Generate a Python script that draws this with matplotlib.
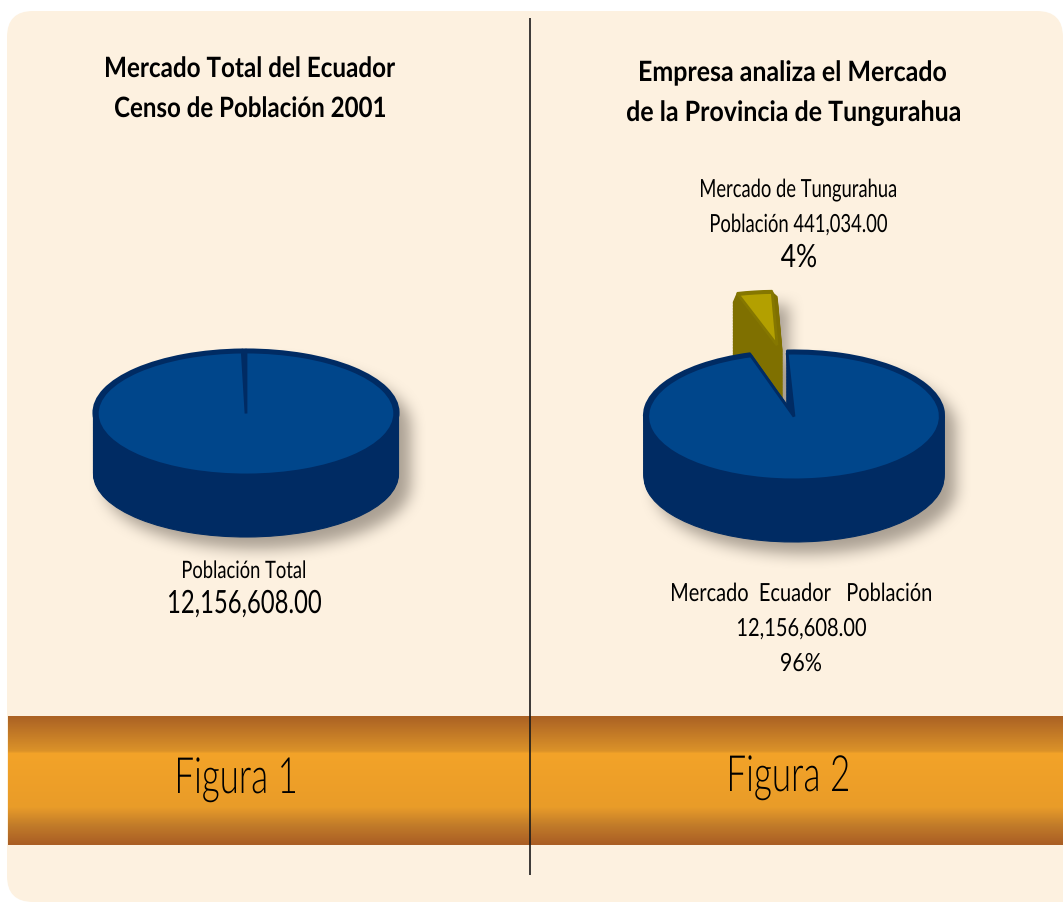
import numpy as np
import matplotlib
matplotlib.use("Agg")
import matplotlib.pyplot as plt
from matplotlib.colors import LinearSegmentedColormap, to_rgba
from matplotlib.font_manager import FontProperties
from matplotlib.patches import FancyBboxPatch, Rectangle
from matplotlib.path import Path
from matplotlib.text import Text
from matplotlib.textpath import TextPath
from matplotlib.transforms import Affine2D, Bbox

plt.rcParams['font.family'] = ['Lato', 'Open Sans', 'DejaVu Sans']

W, H = 1063, 902

# ---------- data ----------
title_left = ["Mercado Total del Ecuador", "Censo de Población 2001"]
title_right = ["Empresa analiza el Mercado", "de la Provincia de Tungurahua"]
figure_labels = ["Figura 1", "Figura 2"]
pie1_values = [99.6, 0.4]
pie2_values = [96, 4]
pie1_text = ["Población Total", "12,156,608.00"]
pie2_top = ["Mercado de Tungurahua", "Población 441,034.00", "4%"]
pie2_bottom = ["Mercado  Ecuador   Población", "12,156,608.00", "96%"]

CARD = '#FDF1E0'
BLUE = '#00468B'
BLUE_DARK = '#002B63'
OLIVE = '#B3A000'
OLIVE_DARK = '#7F7000'
OLIVE_EDGE = '#857700'


class FittedText(Text):
    """A real text artist drawn condensed to a given pixel width (no condensed font is installed)."""

    def __init__(self, x, y, s, width_px, size_px, weight='normal', **kw):
        super().__init__(x, y, s, color='black', **kw)
        self.width_px, self.size_px = width_px, size_px
        self.fp = FontProperties(family=['Lato'], weight=weight)

    def _outline(self):
        tp = TextPath((0, 0), self.get_text(), size=self.size_px, prop=self.fp)
        ext = tp.get_extents()
        dx, dy = self.get_transform().transform((self.get_position()))
        tr = (Affine2D().translate(-ext.x0, 0).scale(self.width_px / ext.width, 1)
              .translate(dx - self.width_px / 2, dy))
        return Path(tp.vertices.copy(), tp.codes.copy()), tr

    def draw(self, renderer):
        path, tr = self._outline()
        gc = renderer.new_gc()
        gc.set_linewidth(0)
        gc.set_antialiased(True)
        renderer.draw_path(gc, path, tr, to_rgba('black'))
        gc.restore()

    def get_window_extent(self, renderer=None, dpi=None):
        path, tr = self._outline()
        return Bbox(path.transformed(tr).get_extents())


def silhouette_shadow(cx, cy, rx, ry, depth, blur, extra=None):
    yy, xx = np.mgrid[0:H, 0:W]
    sweep = np.clip(yy - cy, 0, depth)
    mask = ((xx - cx) / rx) ** 2 + ((yy - cy - sweep) / ry) ** 2 <= 1
    mask = mask.astype(float)
    if extra is not None:
        mask = np.maximum(mask, extra(xx, yy).astype(float))
    kernel = np.ones(2 * blur + 1) / (2 * blur + 1)
    for _ in range(2):
        mask = np.apply_along_axis(lambda r: np.convolve(r, kernel, mode='same'), 0, mask)
        mask = np.apply_along_axis(lambda r: np.convolve(r, kernel, mode='same'), 1, mask)
    return mask


fig = plt.figure(figsize=(W / 100, H / 100), dpi=100, facecolor='white')

# ---------- background ----------
back = fig.add_axes([0, 0, 1, 1])
back.axis('off')
r = 26
back.add_patch(FancyBboxPatch((7 + r, 11 + r), W - 7 - 2 * r, H - 11 - 2 * r,
                              boxstyle=f"round,pad={r},rounding_size={r}",
                              fc=CARD, ec='none', zorder=1))
back.add_patch(Rectangle((W - 100, H - 100), 100, 100, fc=CARD, ec='none', zorder=1))

shadow = np.maximum(
    silhouette_shadow(246 + 11, 412 + 12, 153, 62.5, 62, 8),
    silhouette_shadow(794 + 11, 415 + 12, 150.5, 64.5, 62, 8,
                      extra=lambda x, y: (x > 745) & (x < 789) & (y > 304) & (y < 420)))
rgba = np.zeros((H, W, 4))
rgba[..., :3] = np.array([0x98, 0x8E, 0x82]) / 255
rgba[..., 3] = shadow * 0.82
back.imshow(rgba, extent=(0, W, H, 0), zorder=2, aspect='auto', interpolation='nearest')

stops = [(0.0, '#AB6224'), (0.27, '#DB9229'), (0.29, '#F3A328'), (0.71, '#E99C29'),
         (0.85, '#C27C2A'), (1.0, '#AA5E24')]
cmap = LinearSegmentedColormap.from_list('band', stops)
back.imshow(np.linspace(0, 1, 129)[:, None], cmap=cmap, extent=(8, W, 845, 716),
            aspect='auto', zorder=3, vmin=0, vmax=1)
back.plot([530, 530], [18, 875], color='#1a1a1a', lw=1.2, zorder=4, solid_capstyle='butt')
back.set_xlim(0, W)
back.set_ylim(H, 0)


# ---------- pies ----------
def pie_axes(cx, cy, rx, ry):
    s = 4
    ax = fig.add_axes([(cx - s * rx) / W, 1 - (cy + s * ry) / H, 2 * s * rx / W, 2 * s * ry / H])
    ax.patch.set_alpha(0)
    return ax, s


def finish(ax, s):
    ax.set_aspect('auto')
    ax.set_xlim(-s, s)
    ax.set_ylim(-s, s)
    ax.axis('off')


def layer(ax, values, start, keep, radius, center, color, ec, lw):
    wedges, _ = ax.pie(values, startangle=start, counterclock=False, radius=radius, center=center,
                       colors=[color] * len(values),
                       wedgeprops=dict(lw=lw, ec=ec, joinstyle='bevel'))
    for i, p in enumerate(wedges):
        if i != keep:
            p.remove()


def draw_body(ax, values, start, ry, depth, keep, top, side, edge, radius=1.0, rim=0.975,
              side_lw=0.8, d_min=0.0, drop=1.0):
    for d in np.arange(depth, d_min, -1.5):
        layer(ax, values, start, keep, radius, (0, -d / ry), side, side, side_lw)
    layer(ax, values, start, keep, radius, (0, 0), edge, edge, 1.5)
    layer(ax, values, start, keep, radius * rim, (0, -drop / ry), top, edge, 2.0)


# exploded slice first so the main pie covers its foot
ax2b, s = pie_axes(777, 345, 149, 57)
draw_body(ax2b, pie2_values, 92.0, 57, 60, 1, OLIVE, OLIVE_DARK, OLIVE_EDGE, radius=0.95, rim=0.97,
          side_lw=8, d_min=5.0, drop=0.0)
finish(ax2b, s)

ax2, s = pie_axes(794, 415.5, 150, 65)
draw_body(ax2, pie2_values, 92.7, 65, 61.5, 0, BLUE, BLUE_DARK, BLUE_DARK)
finish(ax2, s)

ax1, s = pie_axes(246, 412.5, 152.5, 63)
layer(ax1, pie1_values, 90.0, 1, 1.0, (0, 0), BLUE_DARK, BLUE_DARK, 1.5)
draw_body(ax1, pie1_values, 90.0, 63, 61.5, 0, BLUE, BLUE_DARK, BLUE_DARK)
finish(ax1, s)

# ---------- text ----------
front = fig.add_axes([0, 0, 1, 1])
front.axis('off')
front.patch.set_alpha(0)
front.set_xlim(0, W)
front.set_ylim(H, 0)


def put(x, base, s, width, size, weight='normal'):
    t = FittedText(x, base, s, width, size, weight, transform=front.transData)
    front.add_artist(t)
    t.set_clip_on(False)


put(250.5, 77, title_left[0], 289, 28, 'bold')
put(250, 117, title_left[1], 270, 28, 'bold')
put(793, 81, title_right[0], 306, 28, 'bold')
put(793.5, 121, title_right[1], 333, 28, 'bold')
put(236.5, 793, figure_labels[0], 117, 50, 300)
put(789, 791, figure_labels[1], 118, 50, 300)
put(244, 578, pie1_text[0], 122, 24)
put(245, 613, pie1_text[1], 152, 32)
put(798.5, 197, pie2_top[0], 195, 25)
put(799, 232, pie2_top[1], 176, 25)
put(798.5, 267, pie2_top[2], 35, 32)
put(801.5, 601, pie2_bottom[0], 259, 25)
put(802, 636, pie2_bottom[1], 128, 25)
put(801, 671, pie2_bottom[2], 40, 25)

fig.savefig('out.png', dpi=100, facecolor='white')
